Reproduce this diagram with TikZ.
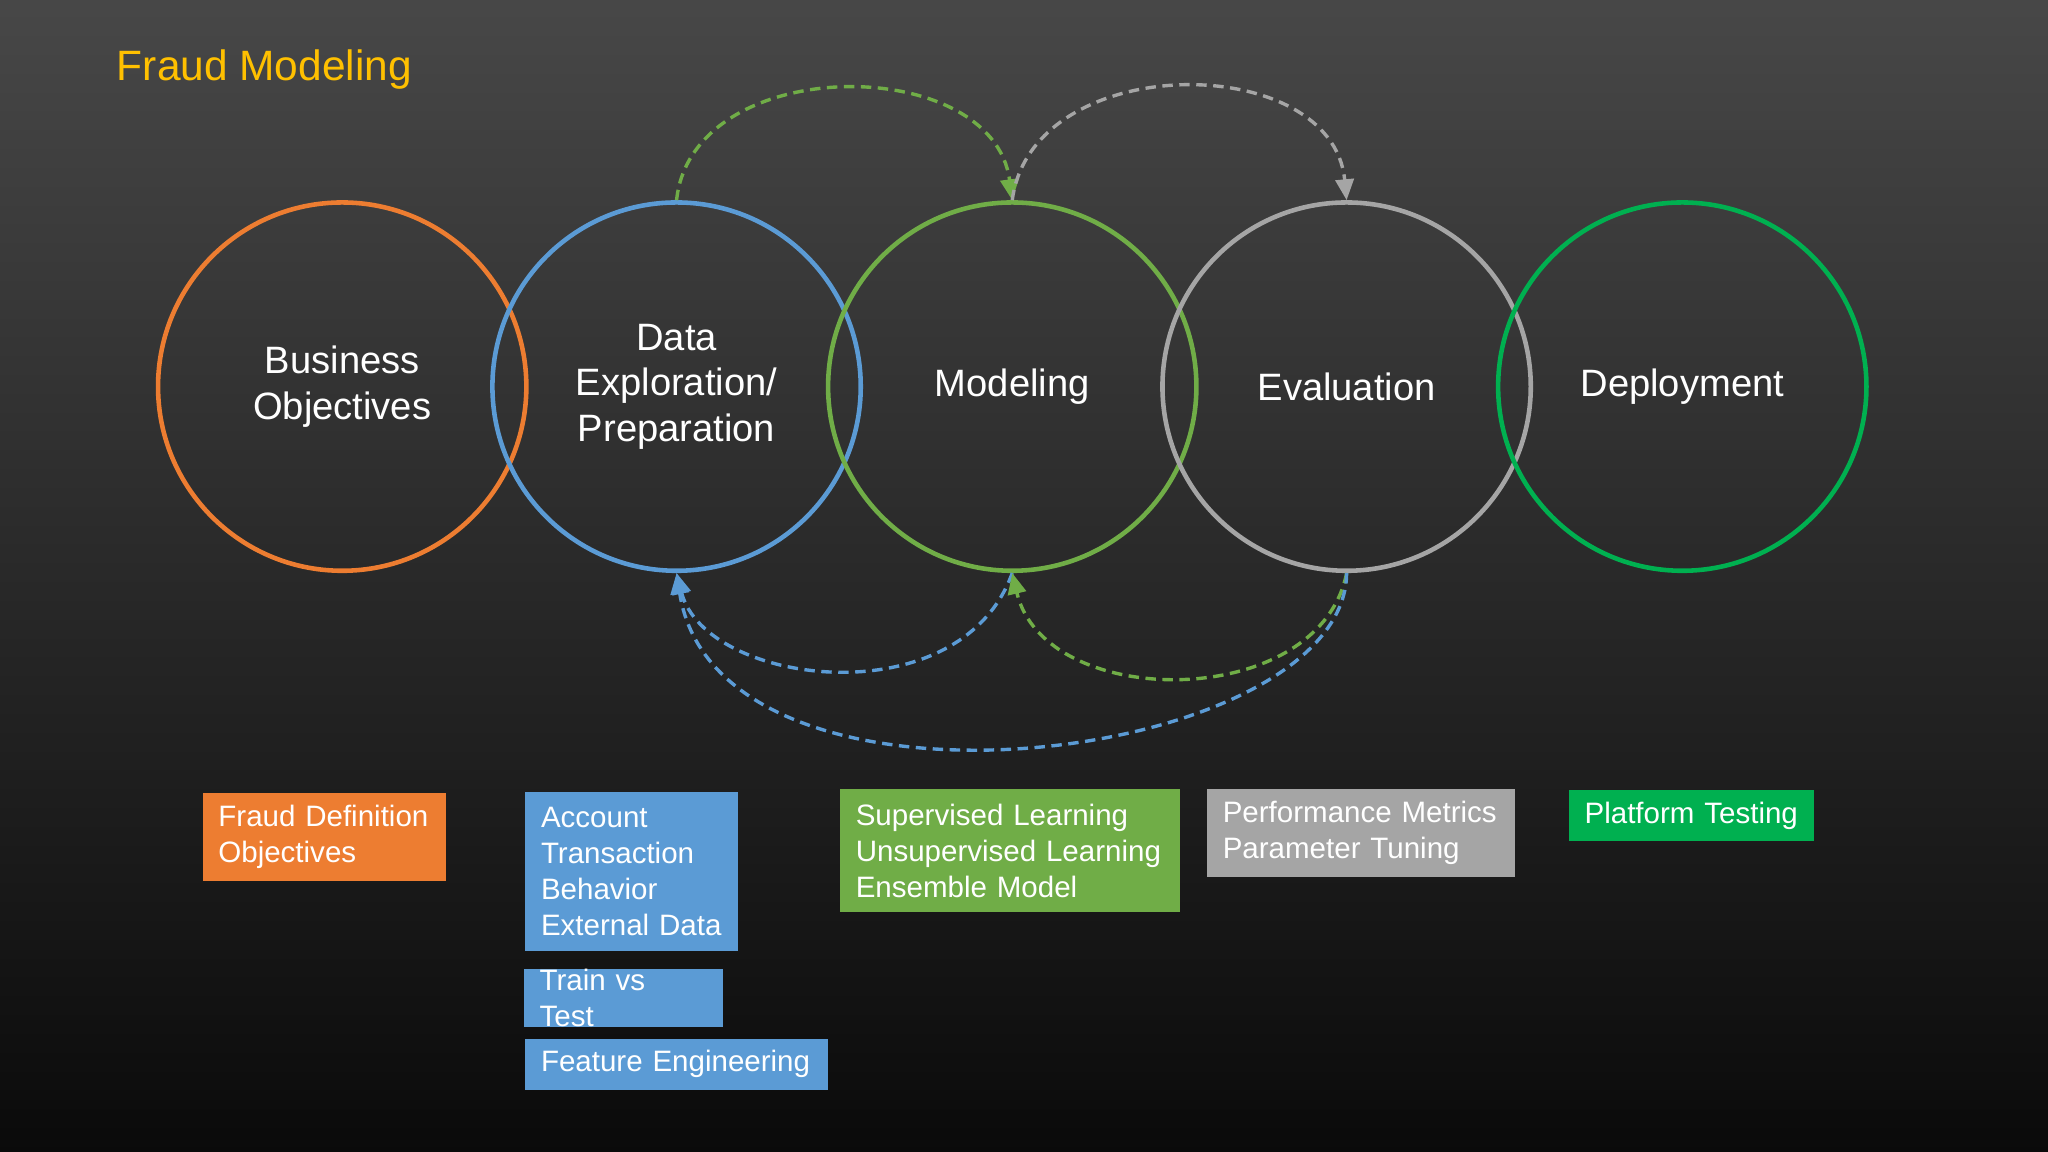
\documentclass[tikz,border=0pt]{standalone}
\usepackage{fontspec}
\setmainfont{Liberation Sans}
\usetikzlibrary{arrows.meta}
\definecolor{cor}{HTML}{ED7D31}
\definecolor{cbl}{HTML}{5B9BD5}
\definecolor{cgr}{HTML}{70AD47}
\definecolor{cgy}{HTML}{A5A5A5}
\definecolor{cdg}{HTML}{00B050}
\definecolor{cti}{HTML}{FFC000}
\begin{document}
\begin{tikzpicture}[x=1pt,y=-1pt,
  circ/.style={circle,line width=3.5pt,minimum size=282pt,inner sep=0pt,text=white,font=\fontsize{29.2}{35}\selectfont,align=center},
  dl/.style={line width=2.6pt,dash pattern=on 8pt off 5pt,-{Triangle[length=16pt,width=14pt,sep=0pt]}},
  box/.style={anchor=north west,text=white,font=\fontsize{22.6}{27.5}\selectfont,align=left,inner xsep=12pt,inner ysep=0pt}]
\shade[top color=black!72,bottom color=black!96] (0,0) rectangle (1568,882);
\useasboundingbox (0,0) rectangle (1568,882);
\node[anchor=west,text=cti,font=\fontsize{32.5}{36}\selectfont] (title) at (86,53) {Fraud Modeling};
\node[circ,draw=cor] (bo) at (262,296) {Business\\Objectives};
\node[circ,draw=cbl] (de) at (518,296) {Data\\Exploration/\\Preparation};
\node[circ,draw=cgr] (mo) at (775,296) {Modeling};
\node[circ,draw=cgy] (ev) at (1031,296) {Evaluation};
\node[circ,draw=cdg] (dp) at (1288,296) {Deployment};
\draw[dl,draw=cgr] (de.north) .. controls (530,40) and (760,40) .. (mo.north);
\draw[dl,draw=cgy] (mo.north) .. controls (790,38) and (1020,38) .. (ev.north);
\draw[dl,draw=cbl] (mo.south) .. controls (735,550) and (540,525) .. (de.south);
\draw[dl,draw=cgr] (ev.south) .. controls (1010,545) and (800,545) .. (mo.south);
\draw[dl,draw=cbl] (ev.south) .. controls (1030,585) and (550,645) .. (de.south);
\node[box,fill=cor,text width=162pt,minimum height=67pt] (b1) at (155,607) {Fraud Definition\\Objectives};
\node[box,fill=cbl,text width=139pt,minimum height=122pt] (b2) at (402,606) {Account\\Transaction\\Behavior\\External Data};
\node[box,fill=cbl,text width=128pt,minimum height=40pt] (b3) at (401,742) {Train vs Test};
\node[box,fill=cbl,text width=208pt,minimum height=39pt] (b4) at (402,795) {Feature Engineering};
\node[box,fill=cgr,text width=236pt,minimum height=94pt] (b5) at (643,604) {Supervised Learning\\Unsupervised Learning\\Ensemble Model};
\node[box,fill=cgy,text width=212pt,minimum height=67pt] (b6) at (924,604) {Performance Metrics\\Parameter Tuning};
\node[box,fill=cdg,text width=164pt,minimum height=39pt] (b7) at (1201,605) {Platform Testing};
\end{tikzpicture}
\end{document}
